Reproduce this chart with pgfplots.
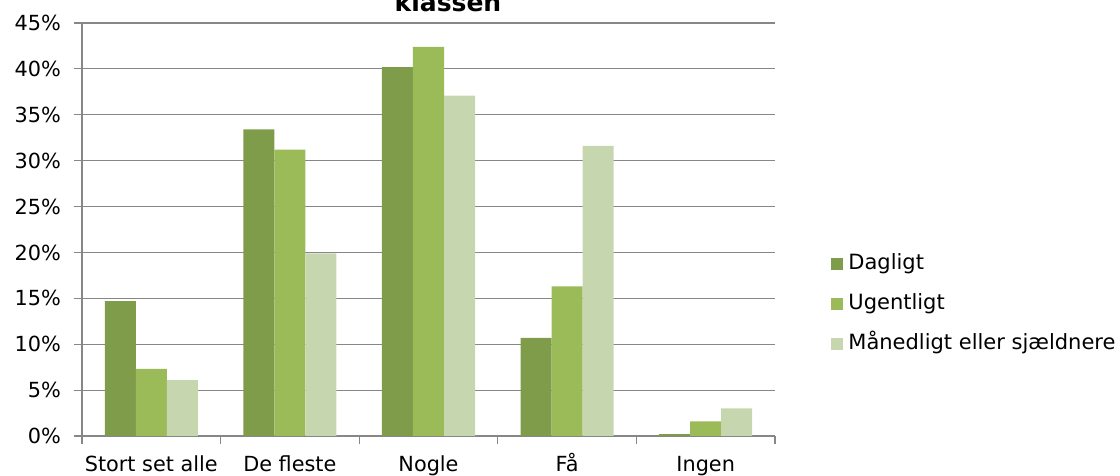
\documentclass[border=0pt]{standalone}
\usepackage{fontspec}
\setmainfont{DejaVu Sans}
\usepackage{pgfplots}
\pgfplotsset{compat=1.18}
\definecolor{dag}{HTML}{7F9C4B}
\definecolor{uge}{HTML}{9BBB59}
\definecolor{maan}{HTML}{C6D7B0}
\definecolor{axgray}{HTML}{878787}
\begin{document}
\begin{tikzpicture}
\begin{axis}[
  at={(41pt,20pt)}, anchor=south west,
  scale only axis, width=346.5pt, height=206.5pt,
  ybar=0pt, bar width=0.2237,
  xmin=-0.5, xmax=4.5, ymin=0, ymax=45,
  axis x line=bottom, axis y line=left,
  axis line style={draw=axgray, line width=0.6pt, -},
  tick align=outside,
  xtick={0,...,4},
  xticklabels={Stort set alle, De fleste, Nogle, Få, Ingen},
  major x tick style={draw=none},
  minor xtick={-0.5,0.5,...,4.5},
  minor tick length=4pt,
  minor x tick style={draw=axgray, line width=0.6pt},
  ytick={0,5,...,45},
  major tick length=4pt,
  major y tick style={draw=axgray, line width=0.6pt},
  yticklabel={\pgfmathprintnumber{\tick}\%},
  ymajorgrids, grid style={draw=axgray, line width=0.6pt},
  /pgf/number format/assume math mode=true,
  tick label style={font=\fontsize{10.4}{12}\selectfont},
  yticklabel style={xshift=-3pt},
  xticklabel style={text height=7.8pt, text depth=2.5pt, yshift=-2.5pt},
  legend style={at={(1.0808,0.3196)}, anchor=west, draw=none, fill=none,
    inner sep=0pt, font=\fontsize{10.5}{12}\selectfont, row sep=8.5pt,
    nodes={inner sep=1pt, text height=7.5pt, text depth=2pt}},
  legend cell align=left,
  legend image code/.code={\fill[#1] (0pt,-3pt) rectangle (6pt,3pt); \path (7.5pt,0pt);},
]
\addplot[fill=dag, draw=none] coordinates {(0,14.7)(1,33.4)(2,40.2)(3,10.7)(4,0.2)};
\addplot[fill=uge, draw=none] coordinates {(0,7.3)(1,31.2)(2,42.4)(3,16.3)(4,1.6)};
\addplot[fill=maan, draw=none] coordinates {(0,6.1)(1,19.9)(2,37.1)(3,31.6)(4,3.0)};
\legend{Dagligt, Ugentligt, Månedligt eller sjældnere}
\end{axis}
\node[anchor=base, font=\bfseries\fontsize{12.5}{15}\selectfont] at (224pt,232pt) {klassen};
\pgfresetboundingbox
\useasboundingbox (0,0) rectangle (560pt,238pt);
\end{tikzpicture}
\end{document}
